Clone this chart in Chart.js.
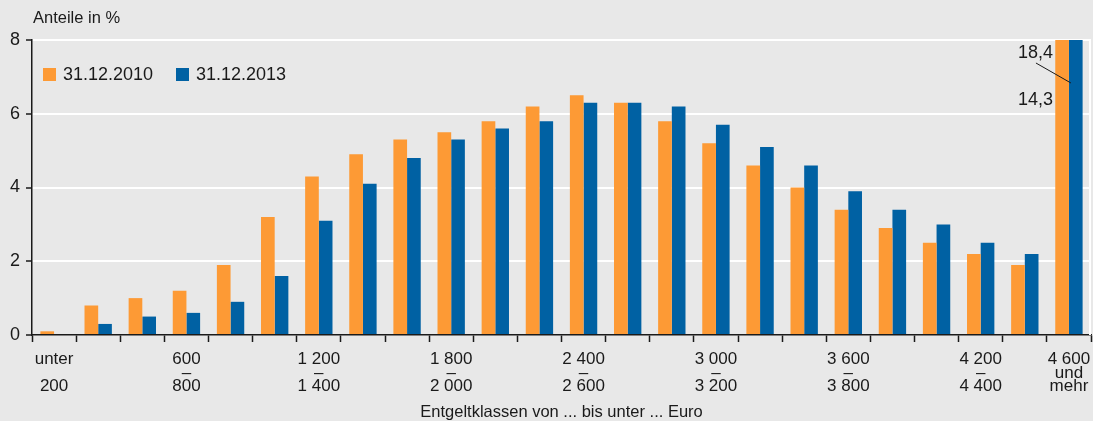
<!DOCTYPE html>
<html>
<head>
<meta charset="utf-8">
<script src="https://cdn.jsdelivr.net/npm/chart.js@4.4.1/dist/chart.umd.min.js"></script>
<style>
  html, body { margin: 0; padding: 0; background: #e8e8e8; }
  canvas { display: block; }
</style>
</head>
<body>
<canvas id="chart" width="1093" height="421"></canvas>
<script>
// Entgeltklassen (200-Euro-Schritte), Anteile in %
const categories = ['unter 200', '200-400', '400-600', '600-800', '800-1000', '1000-1200',
  '1200-1400', '1400-1600', '1600-1800', '1800-2000', '2000-2200', '2200-2400',
  '2400-2600', '2600-2800', '2800-3000', '3000-3200', '3200-3400', '3400-3600',
  '3600-3800', '3800-4000', '4000-4200', '4200-4400', '4400-4600', '4600 und mehr'];

const tickLabels = [['unter', '', '200'], '', '', ['600', '–', '800'], '', '',
  ['1 200', '–', '1 400'], '', '', ['1 800', '–', '2 000'], '', '',
  ['2 400', '–', '2 600'], '', '', ['3 000', '–', '3 200'], '', '',
  ['3 600', '–', '3 800'], '', '', ['4 200', '–', '4 400'], '', ['4 600', 'und', 'mehr']];

const values2010 = [0.1, 0.8, 1.0, 1.2, 1.9, 3.2, 4.3, 4.9, 5.3, 5.5, 5.8, 6.2,
  6.5, 6.3, 5.8, 5.2, 4.6, 4.0, 3.4, 2.9, 2.5, 2.2, 1.9, 14.3];
const values2013 = [0, 0.3, 0.5, 0.6, 0.9, 1.6, 3.1, 4.1, 4.8, 5.3, 5.6, 5.8,
  6.3, 6.3, 6.2, 5.7, 5.1, 4.6, 3.9, 3.4, 3.0, 2.5, 2.2, 18.4];

const seriesNames = ['31.12.2010', '31.12.2013'];
const yTicks = [0, 2, 4, 6, 8];

const ORANGE = '#fd9a35';
const BLUE = '#0061a3';
const INK = '#1a1a1a';
const FONT = "'Liberation Sans', Arial, sans-serif";

// Beschriftungen, Legende und Hinweis auf die abgeschnittenen Balken
const extras = {
  id: 'extras',
  afterDraw(chart) {
    const c = chart.ctx, a = chart.chartArea;
    const x = chart.scales.x;
    c.save();
    // weisse Rahmenlinie rechts
    c.strokeStyle = '#ffffff';
    c.lineWidth = 2;
    c.beginPath();
    c.moveTo(a.right - 1, a.top);
    c.lineTo(a.right - 1, a.bottom);
    c.stroke();

    c.fillStyle = INK;
    c.font = '16.5px ' + FONT;
    c.textBaseline = 'middle';
    c.textAlign = 'left';
    c.fillText('Anteile in %', 33, 18);

    // Legende
    c.font = '18px ' + FONT;
    const items = [[43, ORANGE], [176, BLUE]];
    items.forEach((it, i) => {
      c.fillStyle = it[1];
      c.fillRect(it[0], 68, 13, 13);
      c.fillStyle = INK;
      c.fillText(seriesNames[i], it[0] + 20, 75);
    });

    // Werte der letzten Klasse
    const last = categories.length - 1;
    const cx = x.getPixelForValue(last);
    c.font = '18px ' + FONT;
    c.textAlign = 'right';
    c.fillText(String(values2013[last]).replace('.', ','), cx - 16, 53);
    c.fillText(String(values2010[last]).replace('.', ','), cx - 16, 100);
    c.strokeStyle = INK;
    c.lineWidth = 1;
    c.beginPath();
    c.moveTo(cx - 33, 63);
    c.lineTo(cx + 2, 83);
    c.stroke();
    c.restore();
  }
};

new Chart(document.getElementById('chart'), {
  type: 'bar',
  data: {
    labels: categories,
    datasets: [
      { label: seriesNames[0], data: values2010, backgroundColor: ORANGE },
      { label: seriesNames[1], data: values2013, backgroundColor: BLUE }
    ]
  },
  options: {
    responsive: false,
    animation: false,
    devicePixelRatio: 1,
    layout: { padding: { top: 40, right: 2, left: 0, bottom: 0 } },
    datasets: { bar: { barPercentage: 1, categoryPercentage: 0.62 } },
    plugins: { legend: { display: false }, tooltip: { enabled: false } },
    scales: {
      x: {
        grid: { offset: true, drawOnChartArea: false, tickLength: 7, tickColor: INK, tickWidth: 1.5 },
        border: { color: INK, width: 1.5 },
        ticks: {
          autoSkip: false, maxRotation: 0, padding: 11, color: INK,
          font: { family: FONT, size: 17, lineHeight: '13.5px' },
          callback: (v, i) => tickLabels[i]
        },
        title: {
          display: true, text: 'Entgeltklassen von ... bis unter ... Euro',
          color: INK, font: { family: FONT, size: 16.5, lineHeight: 1 }, padding: 0
        },
        afterFit: s => { s.height = 86; s.paddingLeft = 0; s.paddingRight = 0; }
      },
      y: {
        min: 0, max: 8,
        afterBuildTicks: s => { s.ticks = yTicks.map(v => ({ value: v })); },
        grid: {
          color: ctx => (ctx.tick && ctx.tick.value === 0) ? 'rgba(0,0,0,0)' : '#ffffff',
          lineWidth: 2, tickColor: INK, tickLength: 6, tickWidth: 1.5
        },
        border: { color: INK, width: 1.5 },
        ticks: { color: INK, padding: 6, font: { family: FONT, size: 18 } },
        afterFit: s => { s.width = 32; }
      }
    }
  },
  plugins: [extras]
});
</script>
</body>
</html>
